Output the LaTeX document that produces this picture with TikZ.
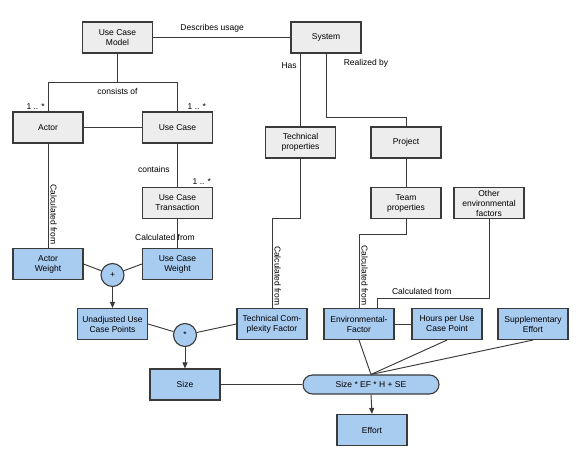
\documentclass[tikz,border=0pt]{standalone}
\usepackage{fontspec}
\setmainfont{Liberation Sans}
\usetikzlibrary{arrows.meta,positioning}
\definecolor{boxgray}{HTML}{EDEDED}
\definecolor{boxblue}{HTML}{A8CBF0}
\definecolor{edge}{HTML}{3A3A3A}

\tikzset{
  every node/.style={font=\fontsize{8.5}{10}\selectfont},
  graybox/.style={draw=edge, line width=1.1pt, fill=boxgray, minimum width=70pt,
    minimum height=31pt, align=center, inner sep=1pt},
  bluebox/.style={graybox, fill=boxblue},
  opcircle/.style={circle, draw=edge, line width=1.1pt, fill=boxblue,
    minimum size=23pt, inner sep=0pt},
  link/.style={draw=edge, line width=0.95pt},
  flow/.style={link, -{Triangle[length=6pt,width=5pt]}},
  calcv/.style={rotate=-90, anchor=south, inner sep=2pt},
}

\begin{document}
\begin{tikzpicture}[x=1pt, y=-1pt]
  \useasboundingbox (0,0) rectangle (579,462);

  % model side
  \node[graybox] (ucm) at (117.5,37.5) {Use Case\\Model};
  \node[graybox] (sys) at (326,37.5) {System};
  \node[graybox] (actor) at (48,127.5) {Actor};
  \node[graybox] (usecase) at (177.5,127.5) {Use Case};
  \node[graybox] (uct) at (177.5,203) {Use Case\\Transaction};
  \node[graybox] (techprop) at (300.5,142.5) {Technical\\properties};
  \node[graybox] (project) at (406,142.5) {Project};
  \node[graybox] (team) at (406,203) {Team\\properties};
  \node[graybox] (other) at (489,203) {Other\\environmental\\factors};

  % estimation side
  \node[bluebox] (aw) at (48,264) {Actor\\Weight};
  \node[bluebox] (ucw) at (177.5,264) {Use Case\\Weight};
  \node[opcircle] (plus) at (112.5,275) {+};
  \node[bluebox] (ucp) at (112.5,324) {Unadjusted Use\\Case Points};
  \node[opcircle] (star) at (185,335) {*};
  \node[bluebox] (tcf) at (272,324) {Technical Com-\\plexity Factor};
  \node[bluebox] (ef) at (359,324) {Environmental-\\Factor};
  \node[bluebox] (hours) at (447,324) {Hours per Use\\Case Point};
  \node[bluebox] (se) at (533,324) {Supplementary\\Effort};
  \node[bluebox] (size) at (185,384.5) {Size};
  \node[draw=edge, line width=1.1pt, fill=boxblue, rounded corners=9.5pt,
    minimum width=136pt, minimum height=19pt] (formula) at (371,384.5) {Size * EF * H + SE};
  \node[bluebox] (effort) at (372,430) {Effort};

  % connectors
  \draw[link] (ucm.east) -- node[pos=0.43, above=1pt] {Describes usage} (sys.west);
  \draw[link] (ucm.south) -- ++(0,29) coordinate (split);
  \draw[link] (actor.north) |- (split) -| (usecase.north);
  \node[below=2pt] at (split) {consists of};
  \node[above left=2pt and 3pt, inner sep=0pt] at (actor.north) {1 .. *};
  \node[above right=2pt and 10pt, inner sep=0pt] at (usecase.north) {1 .. *};
  \draw[link] (actor.east) -- (usecase.west);

  \draw[link] (sys.south -| techprop.north) -- node[pos=0.16, left] {Has} (techprop.north);
  \draw[link] (sys.south) -- node[pos=0.16, right=14pt] {Realized by} ++(0,64) -| (project.north);

  \draw[link] (usecase.south) -- node[pos=0.6, left=4pt] {contains} (uct.north);
  \node[above right=2pt and 15pt, inner sep=0pt] at (uct.north) {1 .. *};
  \draw[link] (actor.south) -- node[calcv, pos=0.68] {Calculated from} (aw.north);
  \draw[link] (uct.south) -- (ucw.north);
  \node at (165,237) {Calculated from};

  \draw[link] (aw.east) -- (plus);
  \draw[link] (ucw.west) -- (plus);
  \draw[flow] (plus.south) -- (ucp.north);
  \draw[link] (ucp.east) -- (star);
  \draw[link] (tcf.west) -- (star);
  \draw[flow] (star.south) -- (size.north);

  \draw[link] (techprop.south) -- ++(0,60) -| node[calcv, pos=0.82] {Calculated from} (tcf.north);
  \draw[link] (project.south) -- (team.north);
  \draw[link] (team.south) -- ++(0,15) -| node[calcv, pos=0.78] {Calculated from} (ef.north);
  \draw[link] (other.south) -- ++(0,79) -| node[pos=0.3, above] {Calculated from} ([xshift=18pt]ef.north);
  \draw[link] (ef.east) -- (hours.west);

  \draw[link] (ef.south) -- (formula.north);
  \draw[link] (hours.south) -- (formula.north);
  \draw[link] (se.south) -- (formula.north);
  \draw[link] (size.east) -- (formula.west);
  \draw[flow] (formula.south) -- (effort.north);
\end{tikzpicture}
\end{document}
